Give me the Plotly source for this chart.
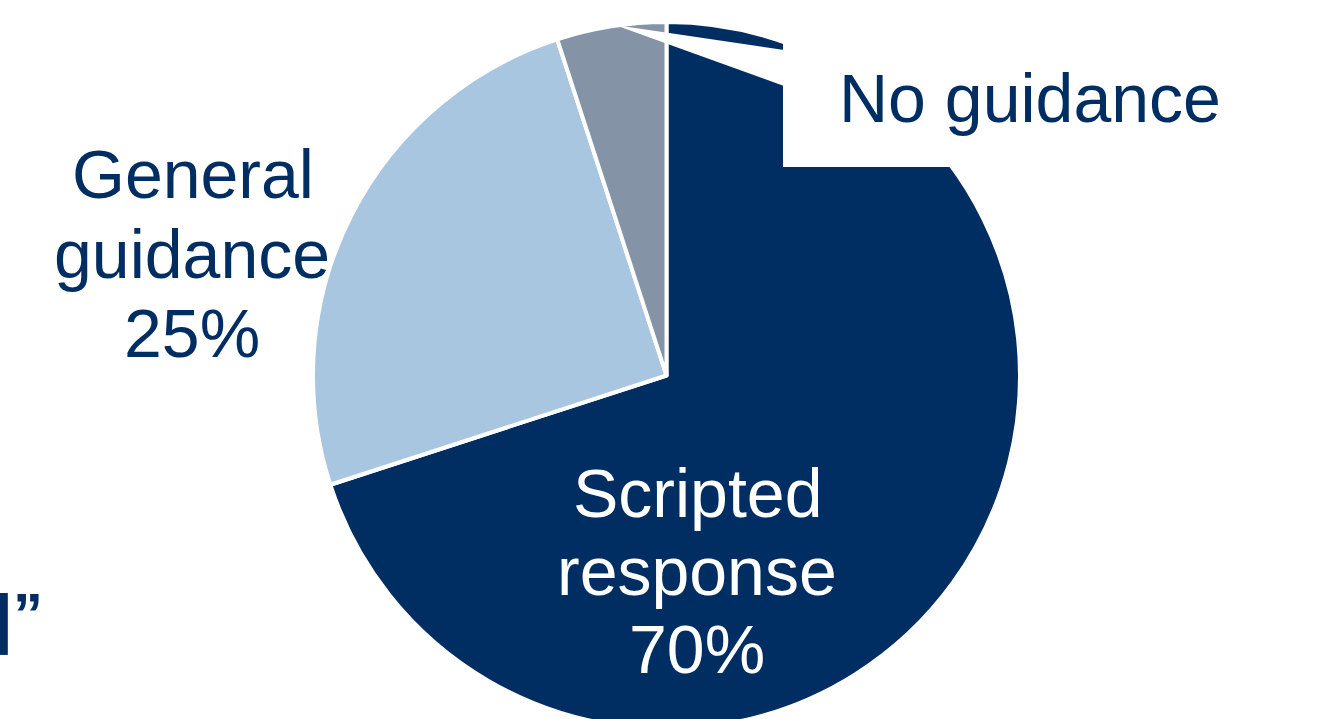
import plotly.graph_objects as go

# ---- data ----
labels = ["Scripted response", "General guidance", "No guidance"]
values = [70, 25, 5]
colors = ["#002E62", "#A9C6E0", "#8593A6"]

W, H = 1318, 750
NAVY = "#002E62"
FONT = "Liberation Sans, Arial, sans-serif"


def px(x):
    return x / W


def py(y):
    return 1 - y / H


cx, cy, r = 666.5, 375.5, 353.5

fig = go.Figure(
    go.Pie(
        labels=labels,
        values=values,
        marker=dict(colors=colors, line=dict(color="white", width=4)),
        sort=False,
        direction="clockwise",
        rotation=0,
        textinfo="none",
        hoverinfo="label+percent",
        showlegend=False,
        domain=dict(x=[px(cx - r), px(cx + r)], y=[py(cy + r), py(cy - r)]),
    )
)

annotations = []


def add_line(text, x, baseline, color, size=68, bold=False, xanchor="center"):
    t = f"<b>{text}</b>" if bold else text
    annotations.append(
        dict(
            text=t,
            x=px(x),
            y=py(baseline - 0.3465 * size),
            xref="paper",
            yref="paper",
            xanchor=xanchor,
            yanchor="middle",
            showarrow=False,
            font=dict(family=FONT, size=size, color=color),
        )
    )


# Scripted response label (inside slice)
add_line("Scripted", 697, 517, "white")
add_line("response", 697, 595, "white")
add_line(f"{values[0]}%", 697, 673, "white")

# General guidance label
add_line("General", 193, 198, NAVY)
add_line("guidance", 192, 278, NAVY)
add_line(f"{values[1]}%", 192, 357, NAVY)

# No guidance label
add_line(labels[2], 1030, 122, NAVY)

# cropped slide-title fragment at bottom-left
add_line("l", -12, 655, NAVY, size=86, bold=True, xanchor="left")
add_line("\u201d", 11, 635, NAVY, size=60, bold=True, xanchor="left")

shapes = [
    # white label box covering part of the pie
    dict(type="rect", xref="paper", yref="paper",
         x0=px(783), x1=px(W + 5), y0=py(167), y1=py(-5),
         fillcolor="white", line=dict(width=0), layer="above"),
    # white callout wedge
    dict(type="path", xref="paper", yref="paper",
         path=f"M {px(615)},{py(25)} L {px(784)},{py(50)} L {px(784)},{py(86)} Z",
         fillcolor="white", line=dict(width=0), layer="above"),
]

fig.update_layout(
    width=W,
    height=H,
    autosize=False,
    margin=dict(l=0, r=0, t=0, b=0),
    paper_bgcolor="white",
    plot_bgcolor="white",
    annotations=annotations,
    shapes=shapes,
)

fig.write_html(
    "out.html",
    config={"displayModeBar": False},
    post_script="document.body.style.margin='0';document.body.style.overflow='hidden';",
)
